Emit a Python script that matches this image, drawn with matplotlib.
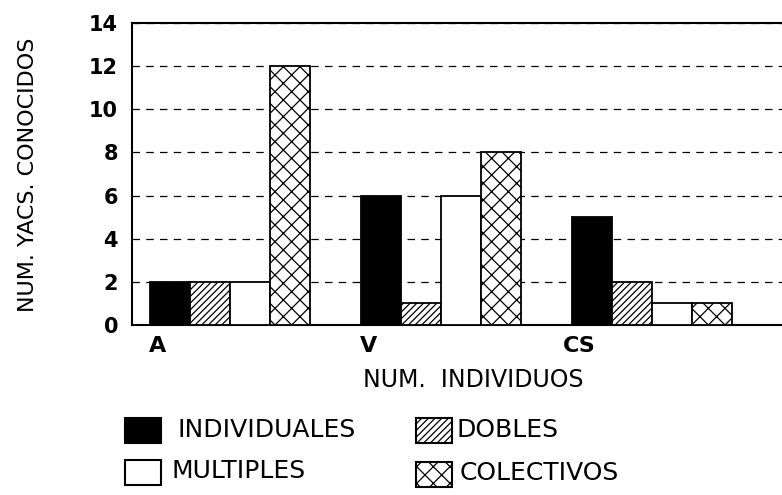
import numpy as np
import matplotlib.pyplot as plt
from matplotlib.patches import Rectangle

# Data
groups = ['A', 'V', 'CS']
series = ['INDIVIDUALES', 'DOBLES', 'MULTIPLES', 'COLECTIVOS']
values = {
    'INDIVIDUALES': [2, 6, 5],
    'DOBLES': [2, 1, 2],
    'MULTIPLES': [2, 6, 1],
    'COLECTIVOS': [12, 8, 1],
}
y_ticks = [0, 2, 4, 6, 8, 10, 12, 14]

styles = {
    'INDIVIDUALES': dict(facecolor='black', hatch=None),
    'DOBLES': dict(facecolor='white', hatch='/////'),
    'MULTIPLES': dict(facecolor='white', hatch=None),
    'COLECTIVOS': dict(facecolor='white', hatch='xx'),
}

plt.rcParams['hatch.linewidth'] = 0.9
plt.rcParams['font.family'] = 'DejaVu Sans'

W, H = 782, 495
fig = plt.figure(figsize=(W / 100, H / 100), dpi=100, facecolor='white')
ax = fig.add_axes([132 / W, 170 / H, 650 / W, 302 / H])

x = np.arange(len(groups))
w = 0.19
for i, name in enumerate(series):
    st = styles[name]
    ax.bar(x + i * w, values[name], width=w, align='edge',
           facecolor=st['facecolor'], edgecolor='black',
           hatch=st['hatch'], linewidth=1.3, zorder=3)

ax.set_xlim(-0.085, 2.995)
ax.set_ylim(0, 14)
ax.set_yticks(y_ticks)
ax.set_yticklabels([str(t) for t in y_ticks], fontsize=15, fontweight='bold')
ax.set_xticks(x + 0.035)
ax.set_xticklabels(groups, fontsize=16, fontweight='bold')
ax.tick_params(length=0)
ax.tick_params(axis='y', pad=10)
ax.tick_params(axis='x', pad=8)

ax.yaxis.grid(True, linestyle=(0, (6, 5)), color='black', linewidth=0.9, zorder=0)
for s in ['left', 'top', 'bottom']:
    ax.spines[s].set_linewidth(1.5)
ax.spines['right'].set_visible(False)

ax.set_xlabel('NUM.  INDIVIDUOS', fontsize=17)
ax.xaxis.set_label_coords((473 - 132) / 650, (325 - 368) / 302)
fig.text(28 / W, 1 - 175 / H, 'NUM. YACS. CONOCIDOS', rotation=90,
         fontsize=16, ha='center', va='center')

# legend drawn by hand (two columns)
legend_pos = {
    'INDIVIDUALES': (125, 418, 178, 430),
    'MULTIPLES': (125, 460, 172, 471),
    'DOBLES': (416, 418, 456, 430),
    'COLECTIVOS': (416, 462, 460, 473),
}
for name, (px, py, tx, ty) in legend_pos.items():
    st = styles[name]
    fig.add_artist(Rectangle((px / W, 1 - (py + 25) / H), 36 / W, 25 / H,
                             transform=fig.transFigure,
                             facecolor=st['facecolor'], edgecolor='black',
                             hatch=st['hatch'], linewidth=1.5))
    fig.text(tx / W, 1 - ty / H, name, fontsize=18, ha='left', va='center')

plt.savefig('out.png', dpi=100)
